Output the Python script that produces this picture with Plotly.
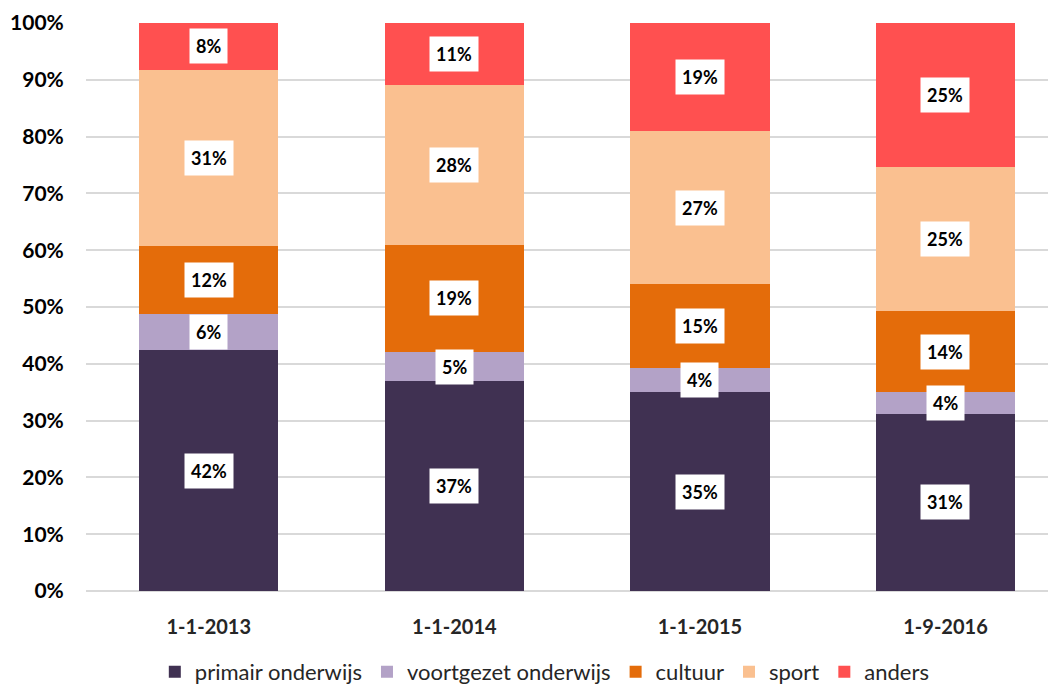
import plotly.graph_objects as go

categories = ["1-1-2013", "1-1-2014", "1-1-2015", "1-9-2016"]
series_names = ["primair onderwijs", "voortgezet onderwijs", "cultuur", "sport", "anders"]
primair = [0.424, 0.369, 0.350, 0.312]
voortgezet = [0.063, 0.052, 0.042, 0.038]
cultuur = [0.120, 0.189, 0.148, 0.143]
sport = [0.311, 0.280, 0.270, 0.253]
anders = [0.082, 0.110, 0.190, 0.254]
colors = ["#403152", "#B3A2C7", "#E46C0A", "#FAC090", "#FF5050"]
y_ticks = [i / 10 for i in range(11)]
y_ticklabels = [f"{i*10}%" for i in range(11)]

series = [primair, voortgezet, cultuur, sport, anders]

fig = go.Figure()
for name, vals, col in zip(series_names, series, colors):
    fig.add_trace(go.Bar(
        x=categories, y=vals, name=name,
        marker=dict(color=col, line=dict(width=0)),
    ))

annotations = []
for ci, cat in enumerate(categories):
    base = 0.0
    for vals in series:
        v = vals[ci]
        annotations.append(dict(
            x=cat, y=base + v / 2, xref="x", yref="y",
            text=f"{round(v*100)}%", showarrow=False,
            font=dict(family="Lato", size=18, color="#000000", weight="bold"),
            bgcolor="#FFFFFF", borderpad=6,
        ))
        base += v

fig.update_layout(
    width=1048, height=676,
    barmode="stack", bargap=0.433,
    plot_bgcolor="#FFFFFF", paper_bgcolor="#FFFFFF",
    margin=dict(l=78, r=0, t=15, b=93, autoexpand=False),
    annotations=annotations,
    showlegend=True,
    legend=dict(
        orientation="h", x=0.473, xanchor="center", y=-0.1426, yanchor="middle",
        font=dict(family="Lato", size=22, color="#262626"),
        traceorder="normal", itemwidth=30,
    ),
    xaxis=dict(
        range=[-0.5, 3.45], showgrid=False, zeroline=False, showline=False,
        automargin=False,
        ticks="outside", ticklen=18, tickcolor="rgba(0,0,0,0)",
        tickfont=dict(family="Lato", size=20, color="#262626", weight="bold"),
    ),
    yaxis=dict(
        range=[0, 1], tickvals=y_ticks, ticktext=y_ticklabels,
        automargin=False,
        showgrid=True, gridcolor="#D9D9D9", gridwidth=1.5,
        zeroline=True, zerolinecolor="#D9D9D9", zerolinewidth=1.5,
        ticks="outside", ticklen=17, tickcolor="rgba(0,0,0,0)",
        tickfont=dict(family="Lato", size=21, color="#000000", weight="bold"),
    ),
)

fig.write_html("out.html")
